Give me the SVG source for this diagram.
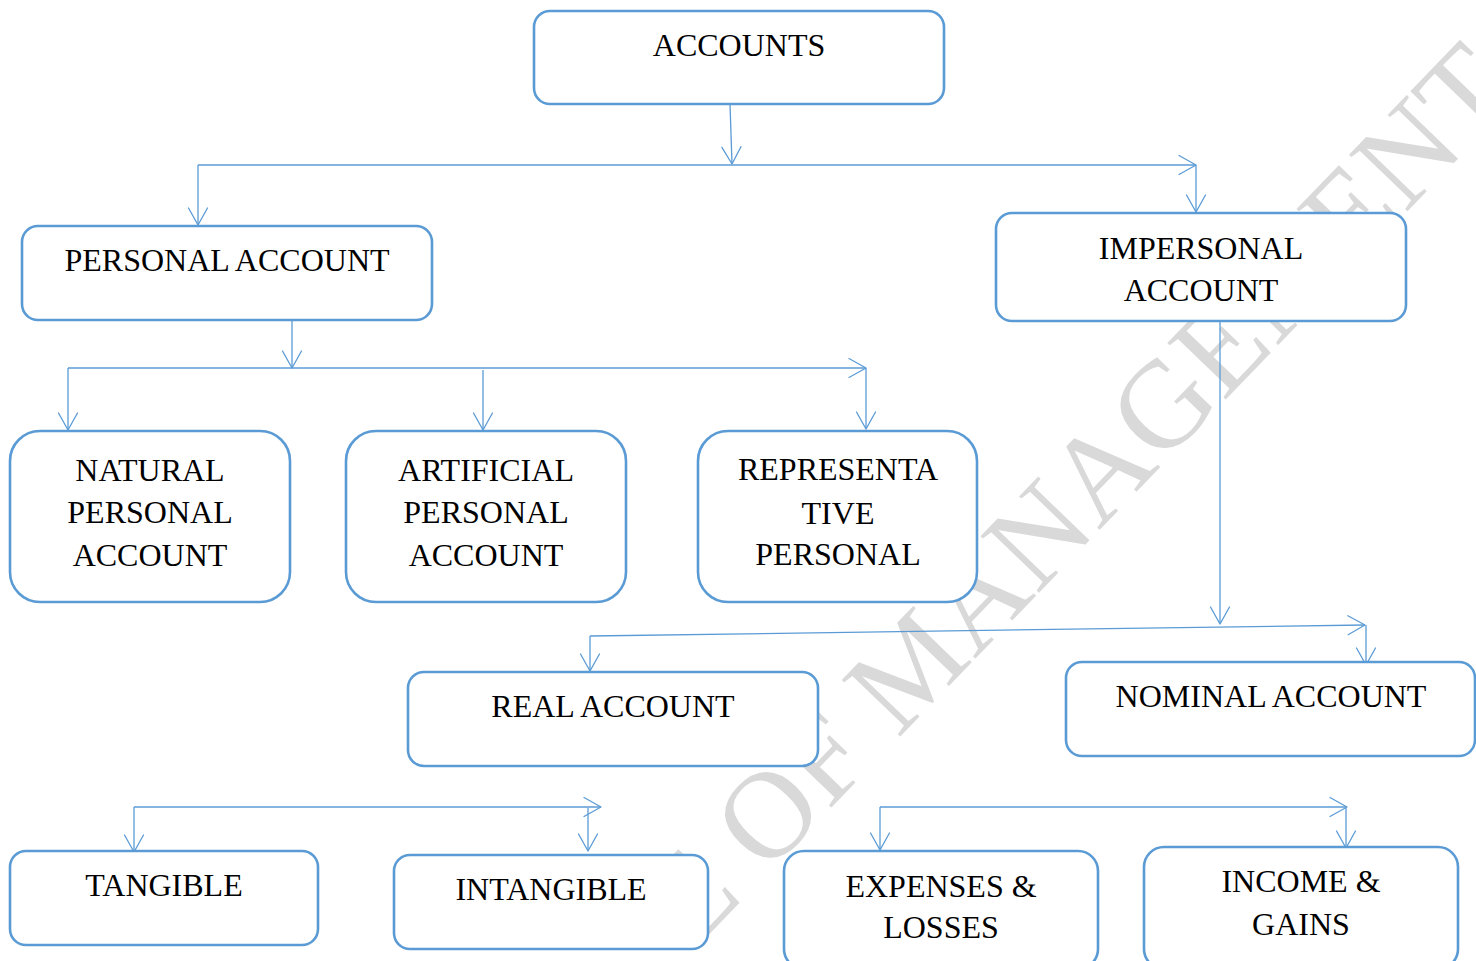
<svg xmlns="http://www.w3.org/2000/svg" width="1476" height="961" viewBox="0 0 1476 961">
  <style>
    .box { fill: #ffffff; stroke: #5b9bd5; stroke-width: 2.6; }
    .lbl { font-family: "Liberation Serif", "Times New Roman", serif; font-size: 32px; fill: #000000; text-anchor: middle; }
    .wire { fill: none; stroke: #5b9bd5; stroke-width: 1.3; }
    .arrow { marker-end: url(#open-arrow); }
    .mark { font-family: "Liberation Serif", "Times New Roman", serif; font-size: 124px; fill: #d9d9d9; }
  </style>
  <defs>
    <marker id="open-arrow" markerUnits="userSpaceOnUse" markerWidth="22" markerHeight="24" viewBox="-2 -12 22 24" refX="17" refY="0" orient="auto">
      <path d="M0,-9.5 L17,0 L0,9.5" fill="none" stroke="#5b9bd5" stroke-width="1.3" stroke-linejoin="round" stroke-linecap="round"/>
    </marker>
  </defs>

  <rect width="1476" height="961" fill="#ffffff"/>

  <!-- background watermark -->
  <g id="watermark">
    <text class="mark" x="692" y="952" transform="rotate(-46 692 952)">E OF MANAGEMENT</text>
  </g>

  <!-- connectors -->
  <g id="connectors">
    <path class="wire arrow" d="M730,104 L732,164"/>
    <path class="wire arrow" d="M198,165 L1196,165"/>
    <path class="wire arrow" d="M198,165 L198,225"/>
    <path class="wire arrow" d="M1196,165 L1196,212"/>

    <path class="wire arrow" d="M292,321 L292,368"/>
    <path class="wire arrow" d="M68,368 L866,368"/>
    <path class="wire arrow" d="M68,368 L68,430"/>
    <path class="wire arrow" d="M483,370 L483,430"/>
    <path class="wire arrow" d="M866,368 L866,429"/>

    <path class="wire arrow" d="M1220,321 L1220,624"/>
    <path class="wire arrow" d="M590,636 L1365,625"/>
    <path class="wire arrow" d="M590,636 L590,671"/>
    <path class="wire arrow" d="M1366,625 L1366,665"/>

    <path class="wire arrow" d="M134,807 L601,807"/>
    <path class="wire arrow" d="M134,807 L134,852"/>
    <path class="wire arrow" d="M588,808 L588,851"/>

    <path class="wire arrow" d="M880,807 L1347,807"/>
    <path class="wire arrow" d="M880,807 L880,850"/>
    <path class="wire arrow" d="M1346,808 L1346,848"/>
  </g>

  <!-- nodes -->
  <g id="accounts">
    <rect class="box" x="534" y="11" width="410" height="93" rx="16"/>
    <text class="lbl" x="739" y="56">ACCOUNTS</text>
  </g>

  <g id="personal-account">
    <rect class="box" x="22" y="226" width="410" height="94" rx="16"/>
    <text class="lbl" x="227" y="271">PERSONAL ACCOUNT</text>
  </g>

  <g id="impersonal-account">
    <rect class="box" x="996" y="213" width="410" height="108" rx="16"/>
    <text class="lbl" x="1201" y="259">IMPERSONAL</text>
    <text class="lbl" x="1201" y="301">ACCOUNT</text>
  </g>

  <g id="natural-personal">
    <rect class="box" x="10" y="431" width="280" height="171" rx="30"/>
    <text class="lbl" x="150" y="481">NATURAL</text>
    <text class="lbl" x="150" y="523">PERSONAL</text>
    <text class="lbl" x="150" y="566">ACCOUNT</text>
  </g>

  <g id="artificial-personal">
    <rect class="box" x="346" y="431" width="280" height="171" rx="30"/>
    <text class="lbl" x="486" y="481">ARTIFICIAL</text>
    <text class="lbl" x="486" y="523">PERSONAL</text>
    <text class="lbl" x="486" y="566">ACCOUNT</text>
  </g>

  <g id="representative-personal">
    <rect class="box" x="698" y="431" width="279" height="171" rx="30"/>
    <text class="lbl" x="838" y="480">REPRESENTA</text>
    <text class="lbl" x="838" y="524">TIVE</text>
    <text class="lbl" x="838" y="565">PERSONAL</text>
  </g>

  <g id="real-account">
    <rect class="box" x="408" y="672" width="410" height="94" rx="16"/>
    <text class="lbl" x="613" y="717">REAL ACCOUNT</text>
  </g>

  <g id="nominal-account">
    <rect class="box" x="1066" y="662" width="409" height="94" rx="16"/>
    <text class="lbl" x="1271" y="707">NOMINAL ACCOUNT</text>
  </g>

  <g id="tangible">
    <rect class="box" x="10" y="851" width="308" height="94" rx="16"/>
    <text class="lbl" x="164" y="896">TANGIBLE</text>
  </g>

  <g id="intangible">
    <rect class="box" x="394" y="855" width="314" height="94" rx="16"/>
    <text class="lbl" x="551" y="900">INTANGIBLE</text>
  </g>

  <g id="expenses-losses">
    <rect class="box" x="784" y="851" width="314" height="118" rx="20"/>
    <text class="lbl" x="941" y="897">EXPENSES &amp;</text>
    <text class="lbl" x="941" y="938">LOSSES</text>
  </g>

  <g id="income-gains">
    <rect class="box" x="1144" y="847" width="314" height="122" rx="20"/>
    <text class="lbl" x="1301" y="892">INCOME &amp;</text>
    <text class="lbl" x="1301" y="935">GAINS</text>
  </g>
</svg>
